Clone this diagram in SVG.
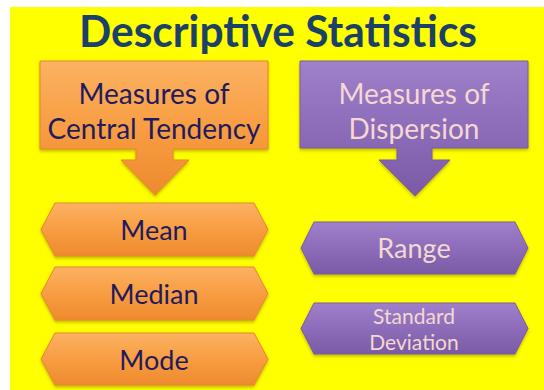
<svg xmlns="http://www.w3.org/2000/svg" width="544" height="390" viewBox="0 0 544 390">
<defs>
<linearGradient id="gOr" x1="0" y1="0" x2="0" y2="1">
<stop offset="0" stop-color="#FBB262"/>
<stop offset="0.5" stop-color="#F89D42"/>
<stop offset="1" stop-color="#EE8A2E"/>
</linearGradient>
<linearGradient id="gPu" x1="0" y1="0" x2="0" y2="1">
<stop offset="0" stop-color="#9F80CA"/>
<stop offset="0.5" stop-color="#8D6CB9"/>
<stop offset="1" stop-color="#7A5AA5"/>
</linearGradient>
<filter id="sh" x="-10%" y="-10%" width="120%" height="130%">
<feDropShadow dx="0" dy="2" stdDeviation="1.5" flood-color="#7a6a00" flood-opacity="0.45"/>
</filter>
<style>
.or{fill:url(#gOr);stroke:#E8872F;stroke-width:1;filter:url(#sh)}
.pu{fill:url(#gPu);stroke:#7A5FA1;stroke-width:1;filter:url(#sh)}
.tOr{font-family:Lato,"Liberation Sans",sans-serif;fill:#1F1B5E;text-anchor:middle}
.tPu{font-family:Lato,"Liberation Sans",sans-serif;fill:#F4D8D2;text-anchor:middle}
.title{font-family:Lato,"Liberation Sans",sans-serif;font-weight:bold;fill:#1C4169;text-anchor:middle}
</style>
</defs>
<rect x="0" y="0" width="544" height="390" fill="#FFFFFF"/>
<rect x="10" y="7" width="534" height="383" fill="#FFFF00"/>
<g id="title">
<text class="title" x="278" y="47" font-size="44" textLength="398" lengthAdjust="spacingAndGlyphs">Descriptive Statistics</text>
</g>
<g id="central-tendency">
<path class="or" d="M40,61 H268 V149 H173 V160 H189 L155,195 L121,160 H136 V149 H40 Z"/>
<text class="tOr" x="154" y="104" font-size="28">Measures of</text>
<text class="tOr" x="154" y="139" font-size="28">Central Tendency</text>
</g>
<g id="dispersion">
<path class="pu" d="M300,61 H528 V148 H432 V160 H450 L415,196 L379,160 H397 V148 H300 Z"/>
<text class="tPu" x="414" y="104" font-size="28">Measures of</text>
<text class="tPu" x="414" y="139" font-size="28">Dispersion</text>
</g>
<g id="mean">
<path class="or" d="M41,229.5 L55,203 H254 L268,229.5 L254,256 H55 Z"/>
<text class="tOr" x="154" y="240" font-size="27">Mean</text>
</g>
<g id="median">
<path class="or" d="M41,293.5 L55,267 H254 L268,293.5 L254,320 H55 Z"/>
<text class="tOr" x="154" y="304" font-size="27">Median</text>
</g>
<g id="mode">
<path class="or" d="M41,359 L55,333 H254 L268,359 L254,385 H55 Z"/>
<text class="tOr" x="154" y="370" font-size="27">Mode</text>
</g>
<g id="range">
<path class="pu" d="M301,248 L314,222 H515 L528,248 L515,274 H314 Z"/>
<text class="tPu" x="414" y="258" font-size="27">Range</text>
</g>
<g id="standard-deviation">
<path class="pu" d="M301,328.5 L314,303 H515 L528,328.5 L515,354 H314 Z"/>
<text class="tPu" x="414" y="324" font-size="21">Standard</text>
<text class="tPu" x="414" y="350" font-size="21">Deviation</text>
</g>
</svg>
